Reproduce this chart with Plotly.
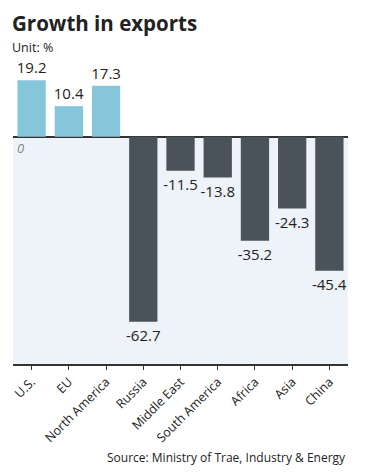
import plotly.graph_objects as go

categories = ["U.S.", "EU", "North America", "Russia", "Middle East",
              "South America", "Africa", "Asia", "China"]
values = [19.2, 10.4, 17.3, -62.7, -11.5, -13.8, -35.2, -24.3, -45.4]

POS = "#86C6DB"
NEG = "#4A535A"
colors = [POS if v >= 0 else NEG for v in values]

FONT = "Open Sans"

fig = go.Figure(go.Bar(
    x=categories, y=values,
    marker=dict(color=colors, line=dict(width=0)),
    width=0.76,
    text=[f"{v:.1f}" for v in values],
    textposition="outside",
    textfont=dict(family=FONT, size=15, color="#222222"),
    cliponaxis=False,
))

fig.update_layout(
    width=366, height=474,
    margin=dict(l=5, r=26, t=58, b=118, autoexpand=False),
    paper_bgcolor="white", plot_bgcolor="white",
    showlegend=False,
    uniformtext=dict(minsize=15, mode="show"),
    font=dict(family=FONT, color="#222222"),
    xaxis=dict(
        automargin=False,
        showline=True, linecolor="#333333", linewidth=1.5,
        ticks="outside", ticklen=4, tickcolor="#333333", tickwidth=1,
        tickangle=-45, tickfont=dict(size=12.5, family=FONT, color="#222222"),
        showgrid=False,
    ),
    yaxis=dict(
        automargin=False,
        range=[-77, 24], showticklabels=False, showgrid=False,
        zeroline=True, zerolinecolor="#333333", zerolinewidth=1.5,
    ),
    shapes=[dict(type="rect", xref="paper", yref="y", x0=0, x1=1, y0=-77, y1=0,
                 fillcolor="#EDF3F8", line=dict(width=0), layer="below")],
    annotations=[
        dict(text="<b>Growth in exports</b>", xref="paper", yref="paper",
             x=-2/335, y=1, xanchor="left", yanchor="top", yshift=58,
             borderpad=0,
             showarrow=False, font=dict(size=20.5, family=FONT, color="#222222")),
        dict(text="Unit: %", xref="paper", yref="paper",
             x=-2/335, y=1, xanchor="left", yanchor="bottom", yshift=9,
             borderpad=0,
             showarrow=False, font=dict(size=12.5, family=FONT, color="#222222")),
        dict(text="<i>0</i>", xref="paper", yref="y", x=0.005, y=0,
             xanchor="left", yanchor="top", showarrow=False,
             font=dict(size=13, family=FONT, color="#888888")),
        dict(text="Source: Ministry of Trae, Industry & Energy", xref="paper", yref="paper",
             x=1, y=0, xanchor="right", yanchor="top", yshift=-83,
             showarrow=False, font=dict(size=12, family=FONT, color="#222222")),
    ],
)

fig.write_html("out.html")
